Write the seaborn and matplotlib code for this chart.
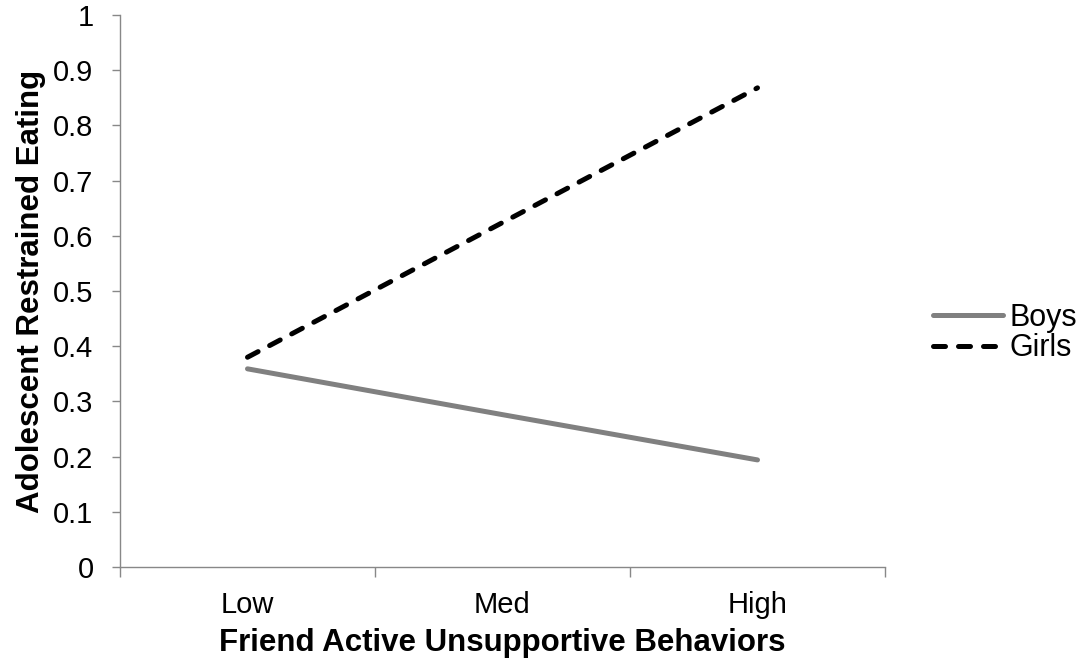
import matplotlib
matplotlib.use("Agg")
import matplotlib.pyplot as plt
import seaborn as sns
import pandas as pd
from matplotlib.lines import Line2D

categories = ["Low", "Med", "High"]
boys = [0.359, 0.276, 0.194]
girls = [0.380, 0.624, 0.868]
series_names = ["Boys", "Girls"]
y_ticks = [0, 0.1, 0.2, 0.3, 0.4, 0.5, 0.6, 0.7, 0.8, 0.9, 1]
y_tick_labels = ["0", "0.1", "0.2", "0.3", "0.4", "0.5", "0.6", "0.7", "0.8", "0.9", "1"]

sns.set_theme(style="white")
plt.rcParams["font.family"] = ["Liberation Sans", "DejaVu Sans"]
plt.rcParams["text.color"] = "black"
plt.rcParams["axes.labelcolor"] = "black"
plt.rcParams["xtick.labelcolor"] = "black"
plt.rcParams["ytick.labelcolor"] = "black"

df = pd.DataFrame({
    "level": categories * 2,
    "value": boys + girls,
    "group": [series_names[0]] * 3 + [series_names[1]] * 3,
})

fig = plt.figure(figsize=(10.91, 6.67), dpi=100)
ax = fig.add_axes([120 / 1091, 1 - 567 / 667, (885 - 120) / 1091, (567 - 15) / 667])

gray = "#808080"
axis_gray = "#888888"
dash = (0, (2.4, 2.6))
sns.lineplot(data=df[df.group == "Boys"], x="level", y="value", ax=ax,
             color=gray, lw=3.6, solid_capstyle="round", sort=False, legend=False)
sns.lineplot(data=df[df.group == "Girls"], x="level", y="value", ax=ax,
             color="black", lw=3.6, dash_capstyle="round", sort=False, legend=False,
             linestyle=dash)

ax.set_xlim(-0.5, 2.5)
ax.set_ylim(0, 1)
ax.set_yticks(y_ticks)
ax.set_yticklabels(y_tick_labels, fontsize=21, color="black")
ax.set_xticks(range(len(categories)))
ax.set_xticklabels(categories, fontsize=21, color="black")
ax.set_xticks([-0.5, 0.5, 1.5, 2.5], minor=True)
ax.tick_params(axis="x", which="major", length=0, pad=17)
ax.tick_params(axis="x", which="minor", length=7, width=1, color=axis_gray, direction="out", bottom=True)
ax.tick_params(axis="y", which="major", length=6, width=1, color=axis_gray, direction="out", left=True, pad=13)

for s in ["top", "right"]:
    ax.spines[s].set_visible(False)
for s in ["left", "bottom"]:
    ax.spines[s].set_color(axis_gray)
    ax.spines[s].set_linewidth(1)

ax.set_xlabel("Friend Active Unsupportive Behaviors", fontsize=22.5, fontweight="bold",
              labelpad=7, color="black")
ax.set_ylabel("Adolescent Restrained Eating", fontsize=22.5, fontweight="bold",
              labelpad=5, color="black")

handles = [
    Line2D([], [], color=gray, lw=3.6, solid_capstyle="round"),
    Line2D([], [], color="black", lw=3.6, dash_capstyle="round", linestyle=dash),
]
leg = fig.legend(handles, series_names, loc="center left", bbox_to_anchor=(933 / 1091, 1 - 333 / 667),
                 frameon=False, fontsize=22, handlelength=2.3, handletextpad=0.2, labelspacing=0.02,
                 borderaxespad=0, borderpad=0)
for t in leg.get_texts():
    t.set_color("black")

fig.savefig("out.png", dpi=100)
